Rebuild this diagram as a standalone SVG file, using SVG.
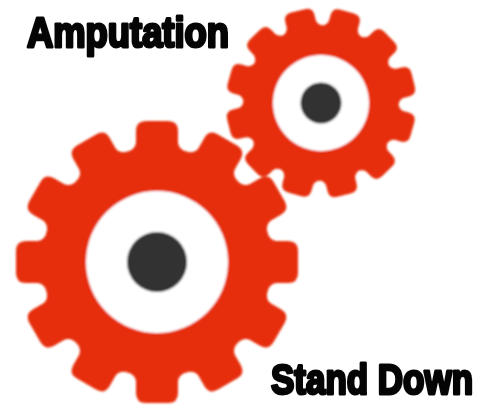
<svg xmlns="http://www.w3.org/2000/svg" xmlns:xlink="http://www.w3.org/1999/xlink" width="493" height="406" viewBox="0 0 493 406">
<style>
.red{fill:#e62e08}
.hole{fill:#fff}
.hub{fill:#333}
.lbl{font-family:"Liberation Sans",Arial,sans-serif;font-weight:700;font-size:42px;fill:#050505;stroke:#050505;stroke-width:3px;stroke-linejoin:round}
</style>
<defs>
<filter id="soft" x="-5%" y="-5%" width="110%" height="110%"><feGaussianBlur stdDeviation="0.8"/></filter>
<path id="tb" d="M-31 -110 Q-22 -112 -21 -119 L-21 -131 Q-21 -141 -11 -141 L11 -141 Q21 -141 21 -131 L21 -119 Q22 -112 31 -110 Z"/>
<path id="ts" d="M-22 -74 Q-16 -76 -15 -81 L-15 -87 Q-15 -95 -7 -95 L7 -95 Q15 -95 15 -87 L15 -81 Q16 -76 22 -74 Z"/>
</defs>
<rect width="493" height="406" fill="#fff"/>
<g filter="url(#soft)">
<g id="gear-small" transform="translate(321 103)">
<circle class="red" r="77"/>
<use class="red" xlink:href="#ts" transform="rotate(16)"/>
<use class="red" xlink:href="#ts" transform="rotate(46)"/>
<use class="red" xlink:href="#ts" transform="rotate(76)"/>
<use class="red" xlink:href="#ts" transform="rotate(106)"/>
<use class="red" xlink:href="#ts" transform="rotate(136)"/>
<use class="red" xlink:href="#ts" transform="rotate(166)"/>
<use class="red" xlink:href="#ts" transform="rotate(196)"/>
<use class="red" xlink:href="#ts" transform="rotate(226)"/>
<use class="red" xlink:href="#ts" transform="rotate(256)"/>
<use class="red" xlink:href="#ts" transform="rotate(286)"/>
<use class="red" xlink:href="#ts" transform="rotate(316)"/>
<use class="red" xlink:href="#ts" transform="rotate(346)"/>
<circle class="hole" r="48"/>
<circle class="hub" r="20.5"/>
</g>
<g id="gear-large" transform="translate(157 262)">
<circle class="red" r="114"/>
<use class="red" xlink:href="#tb"/>
<use class="red" xlink:href="#tb" transform="rotate(30)"/>
<use class="red" xlink:href="#tb" transform="rotate(60)"/>
<use class="red" xlink:href="#tb" transform="rotate(90)"/>
<use class="red" xlink:href="#tb" transform="rotate(120)"/>
<use class="red" xlink:href="#tb" transform="rotate(150)"/>
<use class="red" xlink:href="#tb" transform="rotate(180)"/>
<use class="red" xlink:href="#tb" transform="rotate(210)"/>
<use class="red" xlink:href="#tb" transform="rotate(240)"/>
<use class="red" xlink:href="#tb" transform="rotate(270)"/>
<use class="red" xlink:href="#tb" transform="rotate(300)"/>
<use class="red" xlink:href="#tb" transform="rotate(330)"/>
<circle class="hole" r="71"/>
<circle class="hub" r="30"/>
</g>
</g>
<g id="label-amputation"><text class="lbl" x="27" y="46.5" textLength="202" lengthAdjust="spacingAndGlyphs">Amputation</text></g>
<g id="label-stand-down"><text class="lbl" x="271" y="394" textLength="202" lengthAdjust="spacingAndGlyphs">Stand Down</text></g>
</svg>
